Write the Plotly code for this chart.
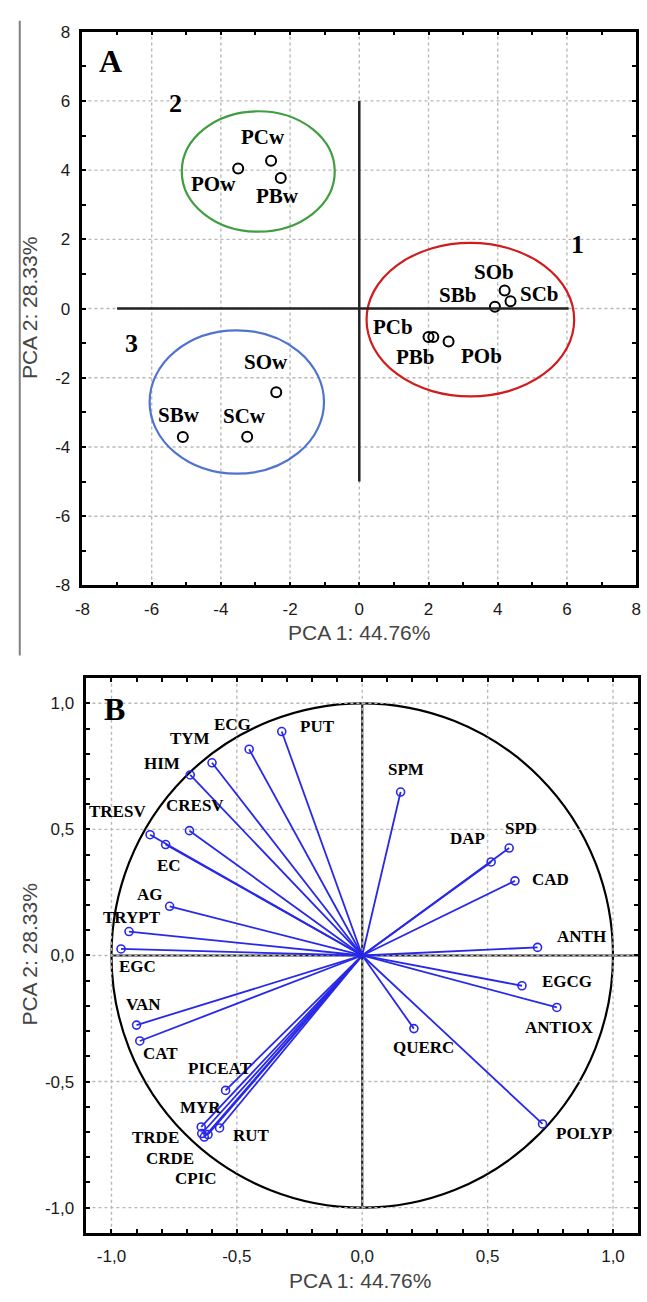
import plotly.graph_objects as go

# ---------------- Panel A: sample scores ----------------
samples_a = ["PCw", "POw", "PBw", "SOb", "SCb", "SBb", "PCb", "PBb", "POb", "SOw", "SBw", "SCw"]
pc1_a = [-2.55, -3.50, -2.27, 4.20, 4.37, 3.92, 2.00, 2.14, 2.58, -2.40, -5.10, -3.24]
pc2_a = [4.27, 4.05, 3.77, 0.52, 0.21, 0.05, -0.82, -0.82, -0.95, -2.42, -3.71, -3.70]

# group ellipses (centre x, centre y, radius x, radius y)
group_names = ["1", "2", "3"]
group_cx = [3.21, -2.92, -3.54]
group_cy = [-0.32, 3.96, -2.70]
group_rx = [3.00, 2.21, 2.52]
group_ry = [2.22, 1.74, 2.07]

# ---------------- Panel B: variable loadings ----------------
vars_b = ["PUT", "ECG", "TYM", "HIM", "CRESV", "TRESV", "EC", "AG", "TRYPT", "EGC",
          "SPM", "DAP", "SPD", "CAD", "ANTH", "EGCG", "ANTIOX", "QUERC", "POLYP",
          "VAN", "CAT", "PICEAT", "MYR", "TRDE", "CRDE", "CPIC", "RUT"]
pc1_b = [-0.321, -0.451, -0.599, -0.686, -0.689, -0.846, -0.784, -0.768, -0.930, -0.962,
         0.153, 0.514, 0.586, 0.609, 0.699, 0.637, 0.776, 0.206, 0.719,
         -0.900, -0.887, -0.545, -0.642, -0.640, -0.615, -0.630, -0.569]
pc2_b = [0.888, 0.818, 0.764, 0.716, 0.495, 0.479, 0.440, 0.195, 0.095, 0.026,
         0.648, 0.371, 0.426, 0.296, 0.032, -0.120, -0.206, -0.290, -0.668,
         -0.276, -0.339, -0.535, -0.680, -0.706, -0.710, -0.720, -0.684]

ticks_a = [-8, -6, -4, -2, 0, 2, 4, 6, 8]
ticktext_a = ["-8", "-6", "-4", "-2", "0", "2", "4", "6", "8"]
ticks_b = [-1.0, -0.5, 0.0, 0.5, 1.0]
ticktext_b = ["-1,0", "-0,5", "0,0", "0,5", "1,0"]

axis_title_x = "PCA 1: 44.76%"
axis_title_y = "PCA 2: 28.33%"

# ---------------- styling / label offsets (pixels) ----------------
W, H = 647, 1302
RANGE_A = [-8, 8]
RANGE_B = [-1.1, 1.1]
label_off_a = {
    "PCw": (-8, 24), "POw": (-25, -16), "PBw": (-3, -18), "SOb": (-11, 19),
    "SBb": (-37, 12), "SCb": (29, 7), "PCb": (-36, 10), "PBb": (-18, -20),
    "POb": (33, -15), "SOw": (-10, 30), "SBw": (-4, 22), "SCw": (-3, 21),
}
label_off_b = {
    "PUT": (36, 5), "ECG": (-17, 25), "TYM": (-22, 24), "HIM": (-28, 11),
    "CRESV": (6, 25), "TRESV": (-33, 23), "EC": (3, -21), "AG": (-20, 12),
    "TRYPT": (3, 14), "EGC": (16, -18), "SPM": (5, 23), "DAP": (-24, 23),
    "SPD": (12, 20), "CAD": (36, 1), "ANTH": (44, 11), "EGCG": (45, 4),
    "ANTIOX": (3, -20), "QUERC": (10, -19), "POLYP": (41, -10), "VAN": (7, 21),
    "CAT": (21, -13), "PICEAT": (-6, 22), "MYR": (-1, 19), "RUT": (32, -8),
    "TRDE": (-46, -4), "CRDE": (-38, -24), "CPIC": (-8, -41),
}
group_label_pos = {"1": (6.32, 1.85), "2": (-5.31, 5.92), "3": (-6.59, -1.02)}
group_colors = {"1": "#d01c1c", "2": "#3f9e3f", "3": "#4f73cf"}
BLUE = "#2828e8"
SERIF = "Liberation Serif"
SANS = "Liberation Sans"

fig = go.Figure()

# dotted grid lines at the major tick values (drawn first, beneath everything)
for xa, ya, tv, rng in (("x", "y", ticks_a, RANGE_A), ("x2", "y2", ticks_b, RANGE_B)):
    gx, gy = [], []
    for v in tv:
        if rng[0] < v < rng[1]:
            gx += [v, v, None, rng[0], rng[1], None]
            gy += [rng[0], rng[1], None, v, v, None]
    fig.add_trace(go.Scatter(
        x=gx, y=gy, mode="lines", xaxis=xa, yaxis=ya,
        line=dict(color="#b8b8b8", width=1.4, dash="dot"),
        hoverinfo="skip", showlegend=False,
    ))

# Panel B loading lines
lx, ly = [], []
for name, a, b in zip(vars_b, pc1_b, pc2_b):
    lx += [0, a, None]
    ly += [0, b, None]
fig.add_trace(go.Scatter(
    x=lx, y=ly, mode="lines", xaxis="x2", yaxis="y2",
    line=dict(color=BLUE, width=1.8), hoverinfo="skip", showlegend=False,
))
fig.add_trace(go.Scatter(
    x=pc1_b, y=pc2_b, mode="markers", xaxis="x2", yaxis="y2",
    marker=dict(symbol="circle-open", size=8, color=BLUE, line=dict(width=1.6, color=BLUE)),
    hoverinfo="text", text=vars_b, showlegend=False,
))

# Panel A points
fig.add_trace(go.Scatter(
    x=pc1_a, y=pc2_a, mode="markers", xaxis="x", yaxis="y",
    marker=dict(symbol="circle-open", size=10, color="black", line=dict(width=2, color="black")),
    hoverinfo="text", text=samples_a, showlegend=False,
))

shapes = []
# ellipses
for g, cx, cy, rx, ry in zip(group_names, group_cx, group_cy, group_rx, group_ry):
    shapes.append(dict(type="circle", xref="x", yref="y", x0=cx - rx, x1=cx + rx,
                       y0=cy - ry, y1=cy + ry, line=dict(color=group_colors[g], width=2.2)))
# panel A axis cross
shapes.append(dict(type="line", xref="x", yref="y", x0=-7, x1=6.05, y0=0, y1=0,
                   line=dict(color="#222", width=2.5)))
shapes.append(dict(type="line", xref="x", yref="y", x0=0, x1=0, y0=-5, y1=6,
                   line=dict(color="#222", width=2.5)))
# panel B unit circle and cross
shapes.append(dict(type="circle", xref="x2", yref="y2", x0=-1, x1=1, y0=-1, y1=1,
                   line=dict(color="black", width=2.2), layer="below"))
shapes.append(dict(type="line", xref="x2", yref="y2", x0=0, x1=0, y0=-1, y1=1,
                   line=dict(color="#222", width=2.2), layer="below"))
shapes.append(dict(type="line", xref="x2", yref="y2", x0=-1, x1=1.1, y0=0, y1=0,
                   line=dict(color="#222", width=2.2), layer="below"))
# thin grey border line at page left
shapes.append(dict(type="line", xref="paper", yref="paper", x0=12 / W, x1=12 / W,
                   y0=1 - 12 / H, y1=1 - 656 / H, line=dict(color="#808080", width=2)))

annotations = []
for n, a, b in zip(samples_a, pc1_a, pc2_a):
    dx, dy = label_off_a[n]
    annotations.append(dict(x=a, y=b, xref="x", yref="y", text=n, showarrow=False,
                            xshift=dx, yshift=dy, xanchor="center", yanchor="middle",
                            font=dict(family=SERIF, size=21, color="black", weight="bold")))
for n, a, b in zip(vars_b, pc1_b, pc2_b):
    dx, dy = label_off_b[n]
    annotations.append(dict(x=a, y=b, xref="x2", yref="y2", text=n, showarrow=False,
                            xshift=dx, yshift=dy, xanchor="center", yanchor="middle",
                            font=dict(family=SERIF, size=17, color="black", weight="bold")))
for g in group_names:
    gx, gy = group_label_pos[g]
    annotations.append(dict(x=gx, y=gy, xref="x", yref="y", text=g, showarrow=False,
                            xanchor="center", yanchor="middle",
                            font=dict(family=SERIF, size=26, color="black", weight="bold")))
annotations.append(dict(x=-7.18, y=7.15, xref="x", yref="y", text="A", showarrow=False,
                        xanchor="center", yanchor="middle",
                        font=dict(family=SERIF, size=32, color="black", weight="bold")))
annotations.append(dict(x=-0.986, y=0.977, xref="x2", yref="y2", text="B", showarrow=False,
                        xanchor="center", yanchor="middle",
                        font=dict(family=SERIF, size=32, color="black", weight="bold")))
# axis titles
tfont = dict(family=SANS, size=21, color="#444")
annotations += [
    dict(x=358 / W, y=1 - 633 / H, xref="paper", yref="paper", text=axis_title_x, showarrow=False,
         xanchor="center", yanchor="middle", font=tfont),
    dict(x=22 / W, y=1 - 304 / H, xref="paper", yref="paper", text=axis_title_y, showarrow=False,
         xanchor="center", yanchor="middle", textangle=-90, font=tfont),
    dict(x=359 / W, y=1 - 1290 / H, xref="paper", yref="paper", text=axis_title_x, showarrow=False,
         xanchor="center", yanchor="middle", font=tfont),
    dict(x=22 / W, y=1 - 960 / H, xref="paper", yref="paper", text=axis_title_y, showarrow=False,
         xanchor="center", yanchor="middle", textangle=-90, font=tfont),
]

tickfont = dict(family=SANS, size=17, color="#1a1a1a")


def ax(domain, rng, tickvals, ticktext, minor_dtick):
    return dict(
        domain=domain, range=rng, tickmode="array", tickvals=tickvals, ticktext=ticktext,
        showgrid=False, zeroline=False, showline=True, linecolor="black", linewidth=2.5,
        mirror="allticks", ticks="inside", ticklen=4, tickwidth=2, tickcolor="black",
        tickfont=tickfont, ticklabelstandoff=6,
        minor=dict(dtick=minor_dtick, tick0=0, ticks="inside", ticklen=4, tickwidth=2,
                   tickcolor="black", showgrid=False),
        fixedrange=True,
    )


fig.update_layout(
    width=W, height=H, margin=dict(l=0, r=0, t=0, b=0),
    paper_bgcolor="white", plot_bgcolor="white",
    xaxis=ax([76 / W, 641 / W], RANGE_A, ticks_a, ticktext_a, 1),
    yaxis=ax([1 - 585 / H, 1 - 23 / H], RANGE_A, ticks_a, ticktext_a, 1),
    xaxis2=ax([80 / W, 643 / W], RANGE_B, ticks_b, ticktext_b, 0.1),
    yaxis2=ax([1 - 1242 / H, 1 - 679 / H], RANGE_B, ticks_b, ticktext_b, 0.1),
    shapes=shapes, annotations=annotations, showlegend=False,
)
fig.update_layout(xaxis=dict(anchor="y"), yaxis=dict(anchor="x"),
                  xaxis2=dict(anchor="y2"), yaxis2=dict(anchor="x2"))

fig.write_html("out.html")
